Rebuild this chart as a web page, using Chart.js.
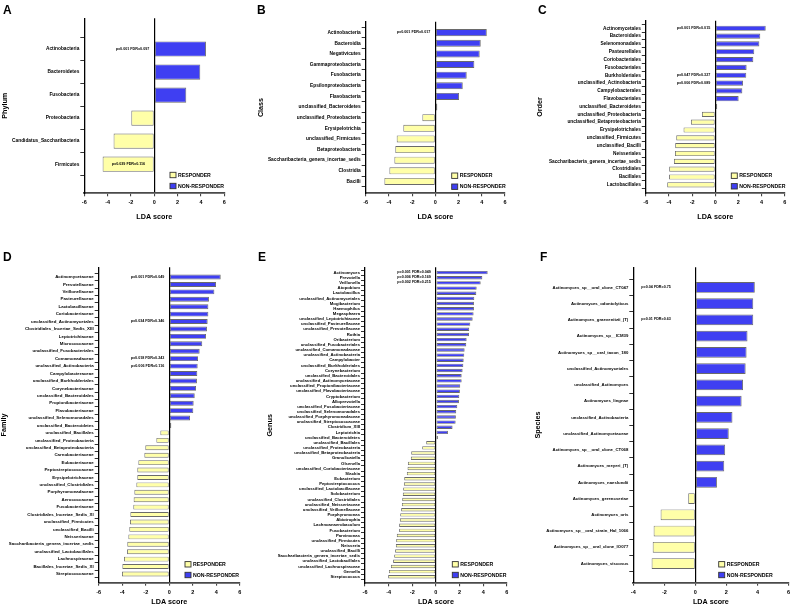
<!DOCTYPE html>
<html><head><meta charset="utf-8">
<script src="https://cdn.jsdelivr.net/npm/chart.js@4.4.0/dist/chart.umd.min.js"></script>
<style>
html,body{margin:0;padding:0;background:#fff;}
#wrap{position:relative;width:793px;height:606px;overflow:hidden;background:#fff;}
canvas{position:absolute;left:0;top:0;}
.lbl{position:absolute;font:bold 12px "Liberation Sans",Arial,sans-serif;line-height:12px;color:#000;}
</style></head><body>
<div id="wrap">
<canvas id="cA" width="793" height="606"></canvas>
<canvas id="cB" width="793" height="606"></canvas>
<canvas id="cC" width="793" height="606"></canvas>
<canvas id="cD" width="793" height="606"></canvas>
<canvas id="cE" width="793" height="606"></canvas>
<canvas id="cF" width="793" height="606"></canvas>
<div class="lbl" style="left:3px;top:4px">A</div>
<div class="lbl" style="left:257px;top:4px">B</div>
<div class="lbl" style="left:538px;top:4px">C</div>
<div class="lbl" style="left:3px;top:251px">D</div>
<div class="lbl" style="left:258px;top:251px">E</div>
<div class="lbl" style="left:540px;top:251px">F</div>
</div>
<script>
// ---------- DATA ----------
const phylumLabels = ['Actinobacteria','Bacteroidetes','Fusobacteria','Proteobacteria','Candidatus_Saccharibacteria','Firmicutes'];
const phylumLDA = [4.43, 3.94, 2.74, -1.97, -3.49, -4.43];
const phylumNotes = [{row:0, text:'p=0.001 FDR=0.097'}, {row:5, text:'p=0.039 FDR=0.116'}];

const classLabels = ['Actinobacteria','Bacteroidia','Negativicutes','Gammaproteobacteria','Fusobacteria','Epsilonproteobacteria','Flavobacteria','unclassified_Bacteroidetes','unclassified_Proteobacteria','Erysipelotrichia','unclassified_Firmicutes','Betaproteobacteria','Saccharibacteria_genera_incertae_sedis','Clostridia','Bacilli'];
const classLDA = [4.43, 3.91, 3.82, 3.36, 2.70, 2.36, 2.04, 0.17, -1.12, -2.76, -3.33, -3.45, -3.53, -3.96, -4.39];
const classNotes = [{row:0, text:'p=0.001 FDR=0.017'}];

const orderLabels = ['Actinomycetales','Bacteroidales','Selenomonadales','Pasteurellales','Coriobacteriales','Fusobacteriales','Burkholderiales','unclassified_Actinobacteria','Campylobacterales','Flavobacteriales','unclassified_Bacteroidetes','unclassified_Proteobacteria','unclassified_Betaproteobacteria','Erysipelotrichales','unclassified_Firmicutes','unclassified_Bacilli','Neisseriales','Saccharibacteria_genera_incertae_sedis','Clostridiales','Bacillales','Lactobacillales'];
const orderLDA = [4.36, 3.89, 3.81, 3.37, 3.29, 2.71, 2.68, 2.40, 2.34, 2.02, 0.17, -1.15, -2.10, -2.74, -3.37, -3.46, -3.48, -3.57, -3.98, -3.99, -4.15];
const orderNotes = [{row:0, text:'p=0.001 FDR=0.015'}, {row:6, text:'p=0.047 FDR=0.327'}, {row:7, text:'p=0.006 FDR=0.089'}];

const familyLabels = ['Actinomycetaceae','Prevotellaceae','Veillonellaceae','Pasteurellaceae','Lactobacillaceae','Coriobacteriaceae','unclassified_Actinomycetales','Clostridiales_Incertae_Sedis_XIII','Leptotrichiaceae','Micrococcaceae','unclassified_Fusobacteriales','Comamonadaceae','unclassified_Actinobacteria','Campylobacteraceae','unclassified_Burkholderiales','Corynebacteriaceae','unclassified_Bacteroidales','Propionibacteriaceae','Flavobacteriaceae','unclassified_Selenomonadales','unclassified_Bacteroidetes','unclassified_Bacillales','unclassified_Proteobacteria','unclassified_Betaproteobacteria','Carnobacteriaceae','Eubacteriaceae','Peptostreptococcaceae','Erysipelotrichaceae','unclassified_Clostridiales','Porphyromonadaceae','Aerococcaceae','Fusobacteriaceae','Clostridiales_Incertae_Sedis_XI','unclassified_Firmicutes','unclassified_Bacilli','Neisseriaceae','Saccharibacteria_genera_incertae_sedis','unclassified_Lactobacillales','Lachnospiraceae','Bacillales_Incertae_Sedis_XI','Streptococcaceae'];
const familyLDA = [4.37, 3.97, 3.83, 3.37, 3.32, 3.32, 3.26, 3.20, 3.12, 2.80, 2.58, 2.44, 2.41, 2.38, 2.35, 2.27, 2.16, 2.07, 2.04, 1.76, 0.17, -0.76, -1.10, -2.04, -2.12, -2.63, -2.72, -2.72, -2.80, -2.97, -3.03, -3.06, -3.31, -3.34, -3.40, -3.48, -3.57, -3.59, -3.85, -3.99, -4.02];
const familyNotes = [{row:0, text:'p=0.001 FDR=0.049'}, {row:6, text:'p=0.034 FDR=0.346'}, {row:11, text:'p=0.018 FDR=0.243'}, {row:12, text:'p=0.006 FDR=0.116'}];

const genusLabels = ['Actinomyces','Prevotella','Veillonella','Atopobium','Lactobacillus','unclassified_Actinomycetales','Mogibacterium','Haemophilus','Megasphaera','unclassified_Leptotrichiaceae','unclassified_Pasteurellaceae','unclassified_Prevotellaceae','Rothia','Oribacterium','unclassified_Fusobacteriales','unclassified_Comamonadaceae','unclassified_Actinobacteria','Campylobacter','unclassified_Burkholderiales','Corynebacterium','unclassified_Bacteroidales','unclassified_Actinomycetaceae','unclassified_Propionibacteriaceae','unclassified_Flavobacteriaceae','Cryptobacterium','Alloprevotella','unclassified_Fusobacteriaceae','unclassified_Selenomonadales','unclassified_Porphyromonadaceae','unclassified_Streptococcaceae','Clostridium_XIII','Leptotrichia','unclassified_Bacteroidetes','unclassified_Bacillales','unclassified_Proteobacteria','unclassified_Betaproteobacteria','Granulicatella','Olsenella','unclassified_Coriobacteriaceae','Slackia','Eubacterium','Peptostreptococcus','unclassified_Lactobacillaceae','Solobacterium','unclassified_Clostridiales','unclassified_Neisseriaceae','unclassified_Veillonellaceae','Porphyromonas','Abiotrophia','Lachnoanaerobaculum','Fusobacterium','Parvimonas','unclassified_Firmicutes','Neisseria','unclassified_Bacilli','Saccharibacteria_genera_incertae_sedis','unclassified_Lactobacillales','unclassified_Lachnospiraceae','Gemella','Streptococcus'];
const genusLDA = [4.38, 3.93, 3.79, 3.45, 3.42, 3.25, 3.22, 3.22, 3.19, 3.11, 2.91, 2.82, 2.80, 2.60, 2.57, 2.43, 2.40, 2.35, 2.32, 2.26, 2.18, 2.18, 2.06, 2.03, 1.98, 1.95, 1.81, 1.72, 1.69, 1.67, 1.41, 1.02, 0.17, -0.82, -1.16, -2.09, -2.12, -2.37, -2.40, -2.46, -2.68, -2.71, -2.77, -2.80, -2.85, -2.88, -2.94, -3.02, -3.05, -3.11, -3.11, -3.31, -3.36, -3.39, -3.45, -3.53, -3.62, -3.81, -3.98, -4.04];
const genusNotes = [{row:0, text:'p=0.001 FDR=0.049'}, {row:1, text:'p=0.006 FDR=0.169'}, {row:2, text:'p=0.002 FDR=0.215'}];

const speciesLabels = ['Actinomyces_sp__oral_clone_CT047','Actinomyces_odontolyticus','Actinomyces_graevenitzii_(T)','Actinomyces_sp__ICM39','Actinomyces_sp__oral_taxon_180','unclassified_Actinomycetales','unclassified_Actinomyces','Actinomyces_lingnae','unclassified_Actinobacteria','unclassified_Actinomycetaceae','Actinomyces_sp__oral_clone_CT068','Actinomyces_meyeri_(T)','Actinomyces_naeslundii','Actinomyces_gerencseriae','Actinomyces_oris','Actinomyces_sp__oral_strain_Hal_1066','Actinomyces_sp__oral_clone_IO077','Actinomyces_viscosus'];
const speciesLDA = [3.83, 3.73, 3.73, 3.36, 3.30, 3.24, 3.07, 2.98, 2.39, 2.15, 1.92, 1.86, 1.39, -0.46, -2.24, -2.69, -2.75, -2.82];
const speciesNotes = [{row:0, text:'p=0.04 FDR=0.75'}, {row:2, text:'p=0.01 FDR=0.63'}];

const xTicksMain = [-6, -4, -2, 0, 2, 4, 6];
const xTicksSpecies = [-4, -2, 0, 2, 4, 6];
const legendLabels = ['RESPONDER', 'NON-RESPONDER'];
const xTitle = 'LDA score';

// ---------- STYLE / LAYOUT ----------
const FAM = '"Liberation Sans", Arial, sans-serif';
const BLUE = '#3f3ff2';
const YELLOW = '#ffffa8';
const EDGE = '#6a6a6a';

const panels = [
  {id:'cA', title:'Phylum', labels:phylumLabels, values:phylumLDA, notes:phylumNotes, xticks:xTicksMain, xmin:-6,
   left:84.3, right:224.3, top:18.3, bottom:193.3, ymin:-0.70, ymax:5.63, yTitleX:5, xTitleY:216.7, font:4.8, legend:{x:170, y:[175, 186]}},
  {id:'cB', title:'Class', labels:classLabels, values:classLDA, notes:classNotes, xticks:xTicksMain, xmin:-6,
   left:365.7, right:505, top:21.7, bottom:193.3, ymin:-0.49, ymax:14.58, yTitleX:261, xTitleY:216.7, font:4.8, legend:{x:451.7, y:[175.7, 186.7]}},
  {id:'cC', title:'Order', labels:orderLabels, values:orderLDA, notes:orderNotes, xticks:xTicksMain, xmin:-6,
   left:645.8, right:784.7, top:20.7, bottom:193.3, ymin:-0.44, ymax:20.56, yTitleX:540.5, xTitleY:216.7, font:4.75, legend:{x:731.3, y:[175.7, 186.3]}},
  {id:'cD', title:'Family', labels:familyLabels, values:familyLDA, notes:familyNotes, xticks:xTicksMain, xmin:-6,
   left:98.7, right:239.9, top:267.3, bottom:582.7, ymin:-0.79, ymax:40.66, yTitleX:4.5, xTitleY:603.3, font:4.4, legend:{x:185, y:[564.3, 575]}},
  {id:'cE', title:'Genus', labels:genusLabels, values:genusLDA, notes:genusNotes, xticks:xTicksMain, xmin:-6,
   left:365, right:506.8, top:267.3, bottom:583.3, ymin:-0.52, ymax:59.76, yTitleX:270, xTitleY:603.3, font:4.25, legend:{x:452.3, y:[564.3, 575]}},
  {id:'cF', title:'Species', labels:speciesLabels, values:speciesLDA, notes:speciesNotes, xticks:xTicksSpecies, xmin:-4, noteAtAxis:true,
   left:633.3, right:790.3, top:267.3, bottom:582.7, ymin:-0.70, ymax:17.64, yTitleX:538.5, xTitleY:603.3, font:4.3, legend:{x:718.7, y:[564.3, 575]}}
];

const TITLE_SIZE = 7.2;
const TITLE_LH = TITLE_SIZE * 1.2;

function makeChart(p) {
  const padLeft = Math.max(0, p.yTitleX - TITLE_LH / 2);
  const xScaleBottom = Math.min(606, p.xTitleY + TITLE_LH / 2);
  const overlay = {
    id: 'overlay_' + p.id,
    afterDatasetsDraw(chart) {
      const ctx = chart.ctx, xs = chart.scales.x, ys = chart.scales.y;
      ctx.save();
      ctx.fillStyle = '#000';
      ctx.textBaseline = 'middle';
      ctx.font = 'bold 3.7px ' + FAM;
      p.notes.forEach(nt => {
        const y = ys.getPixelForValue(nt.row) - 0.5;
        const v = p.values[nt.row];
        if (v < 0) {
          ctx.textAlign = 'center';
          ctx.fillText(nt.text, xs.getPixelForValue(v / 2), y);
        } else if (p.noteAtAxis) {
          ctx.textAlign = 'left';
          ctx.fillText(nt.text, chart.chartArea.left + 8, y);
        } else {
          ctx.textAlign = 'right';
          ctx.fillText(nt.text, xs.getPixelForValue(0) - 5, y);
        }
      });
      // legend
      ctx.font = 'bold 5.2px ' + FAM;
      ctx.textAlign = 'left';
      [YELLOW, BLUE].forEach((c, i) => {
        const cy = p.legend.y[i];
        ctx.fillStyle = c;
        ctx.strokeStyle = '#333';
        ctx.lineWidth = 0.9;
        ctx.fillRect(p.legend.x, cy - 2.7, 6, 5.4);
        ctx.strokeRect(p.legend.x, cy - 2.7, 6, 5.4);
        ctx.fillStyle = '#000';
        ctx.fillText(legendLabels[i], p.legend.x + 8, cy + 0.2);
      });
      ctx.restore();
    }
  };
  return new Chart(document.getElementById(p.id), {
    type: 'bar',
    data: {
      datasets: [{
        data: p.values.map((v, i) => ({x: v, y: i})),
        backgroundColor: p.values.map(v => v >= 0 ? BLUE : YELLOW),
        borderColor: EDGE,
        borderWidth: 0.9,
        borderSkipped: false,
        barPercentage: 0.66,
        categoryPercentage: 1
      }]
    },
    options: {
      indexAxis: 'y',
      responsive: false,
      animation: false,
      events: [],
      layout: {padding: {left: padLeft, top: p.top, right: 793 - p.right, bottom: 606 - xScaleBottom}},
      plugins: {legend: {display: false}, tooltip: {enabled: false}},
      scales: {
        x: {
          type: 'linear', min: p.xmin, max: 6, bounds: 'data',
          afterBuildTicks: s => { s.ticks = p.xticks.map(v => ({value: v})); },
          afterFit: s => { s.height = xScaleBottom - p.bottom; },
          ticks: {font: {family: FAM, size: 5.5, weight: 'bold'}, color: '#000', padding: 3, maxRotation: 0},
          grid: {
            drawOnChartArea: true,
            color: c => (c.tick && c.tick.value === 0) ? '#000' : 'rgba(0,0,0,0)',
            lineWidth: 1.2, tickLength: 3, tickColor: '#333', tickWidth: 1
          },
          border: {display: true, color: '#4a4a4a', width: 1.8},
          title: {display: true, text: xTitle, color: '#000', padding: 0, font: {family: FAM, size: TITLE_SIZE, weight: 'bold'}}
        },
        y: {
          type: 'linear', reverse: true, min: p.ymin, max: p.ymax, bounds: 'data',
          afterBuildTicks: s => { s.ticks = p.labels.map((_, i) => ({value: i})); },
          afterFit: s => { s.width = p.left - padLeft; },
          ticks: {autoSkip: false, callback: v => p.labels[v], font: {family: FAM, size: p.font, weight: 'bold'}, color: '#000', padding: 1},
          grid: {drawOnChartArea: false, tickLength: 4, tickColor: '#000', lineWidth: 0.8},
          border: {display: true, color: '#000', width: 1.3},
          title: {display: true, text: p.title, color: '#000', padding: 0, font: {family: FAM, size: TITLE_SIZE, weight: 'bold'}}
        }
      }
    },
    plugins: [overlay]
  });
}
panels.forEach(makeChart);
</script>
</body></html>
